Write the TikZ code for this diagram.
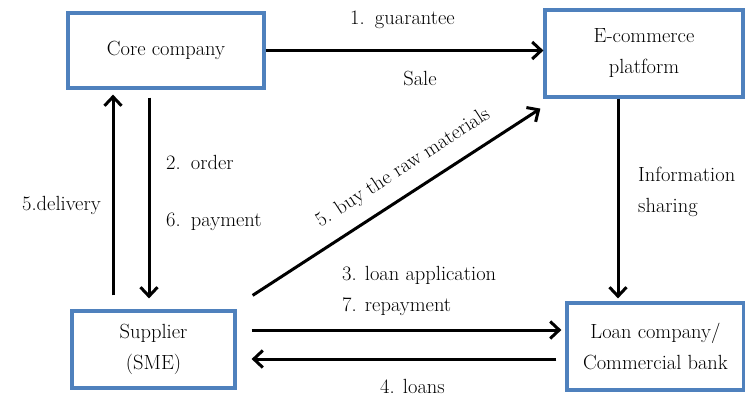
\documentclass[tikz,border=0pt]{standalone}
\usepackage{fontspec}
\usetikzlibrary{arrows.meta,calc}
\definecolor{boxblue}{HTML}{4F81BD}
\begin{document}
\begin{tikzpicture}[x=1pt,y=-1pt,
  txt/.style={font=\fontsize{20.5}{31}\selectfont},
  box/.style={txt, draw=boxblue, line width=3.2pt, fill=white, align=center, inner sep=0pt},
  arr/.style={line width=3pt, -{Straight Barb[length=9pt,width=17pt,line width=3pt]}},
  lbl/.style={txt, inner sep=0pt, align=left}]
\useasboundingbox (0,0) rectangle (745,397);
% boxes
\node[box, minimum width=196pt, minimum height=75pt] (core) at (166,50.5) {Core company};
\node[box, minimum width=198pt, minimum height=87pt] (ecom) at (644,53.5) {E-commerce\\platform};
\node[box, minimum width=163pt, minimum height=77pt] (sup) at (153.5,349.5) {Supplier\\(SME)};
\node[box, minimum width=177pt, minimum height=87pt] (loan) at (655.5,346.5) {Loan company/\\Commercial bank};
% connectors
\draw[arr] (core.east) -- (ecom.west |- core.east);
\draw[arr, shorten <=14pt, shorten >=5pt] (sup.north -| 113,0) -- (core.south -| 113,0);
\draw[arr, shorten <=8pt, shorten >=11pt] (core.south -| 149,0) -- (sup.north -| 149,0);
\draw[arr] ($(sup.north east)+(16,-14)$) -- node[lbl, pos=0.57, sloped, above=14pt] (buy) {5. buy the raw materials} ($(ecom.south west)+(-3,10)$);
\draw[arr, shorten >=3pt] (ecom.south -| 618,0) -- (loan.north -| 618,0);
\draw[arr, shorten <=15pt, shorten >=4pt] (sup.east |- 0,330) -- (loan.west |- 0,330);
\draw[arr, shorten <=9pt, shorten >=15pt] (loan.west |- 0,359) -- (sup.east |- 0,359);
% labels
\node[lbl, anchor=west] (l1) at (350,20) {1.\hspace{0.5em}guarantee};
\node[lbl] (sale) at (420,78) {Sale};
\node[lbl, anchor=west] (l5d) at (22,205) {5.delivery};
\node[lbl, anchor=west] (l2) at (166,162) {2.\hspace{0.5em}order};
\node[lbl, anchor=west] (l6) at (166,222) {6.\hspace{0.5em}payment};
\node[lbl, anchor=west] (l3) at (342,275) {3.\hspace{0.4em}loan application};
\node[lbl, anchor=west] (l7) at (342,307) {7. repayment};
\node[lbl, anchor=west] (l4) at (380,386) {4. loans};
\node[lbl, anchor=west] (info) at (638,192) {Information\\sharing};
\end{tikzpicture}
\end{document}
